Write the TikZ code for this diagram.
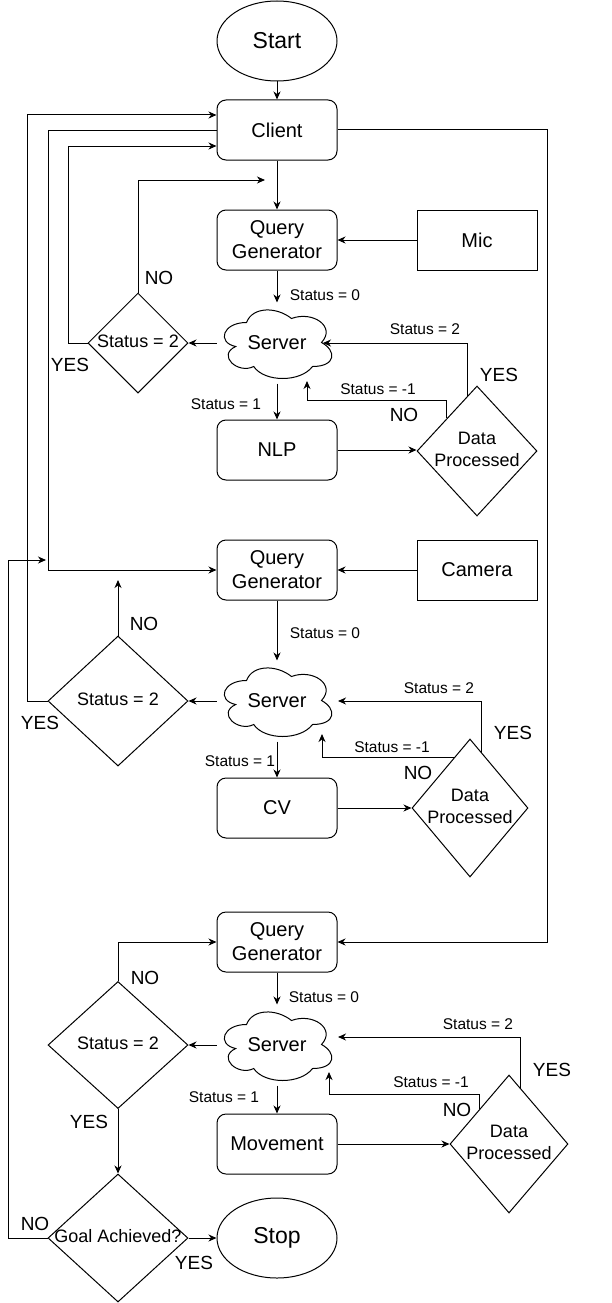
\documentclass[tikz,border=0pt]{standalone}
\usepackage{fontspec}
\setmainfont{Liberation Sans}
\usetikzlibrary{shapes.geometric,arrows.meta}
\newcommand\dtxt[1]{\makebox[0pt]{\begin{tabular}{@{}c@{}}#1\end{tabular}}}
\newcommand\cloudof[1]{%
  \begin{scope}[shift={(#1.north west)}]
    \draw[line width=1pt] (30,20) .. controls (6,20) and (0,40) .. (19.2,44)
      .. controls (0,52.8) and (21.6,72) .. (37.2,64)
      .. controls (48,80) and (84,80) .. (96,64)
      .. controls (120,64) and (120,48) .. (105,40)
      .. controls (120,24) and (96,8) .. (75,16)
      .. controls (60,4) and (36,4) .. (30,20) -- cycle;
  \end{scope}}
\begin{document}
\begin{tikzpicture}[x=1pt,y=-1pt,
  base/.style={draw=black, line width=1pt, font=\fontsize{20}{24}\selectfont, inner sep=0pt, align=center},
  rbox/.style={base, rectangle, rounded corners=9pt, minimum width=120pt, minimum height=60pt},
  sbox/.style={base, rectangle, minimum width=120pt, minimum height=60pt},
  oval/.style={base, ellipse, minimum width=120pt, minimum height=80pt, font=\fontsize{23}{27}\selectfont},
  dec/.style={base, diamond, font=\fontsize{18}{21.6}\selectfont},
  srv/.style={base, draw=none, rectangle, minimum width=120pt, minimum height=80pt},
  elab/.style={font=\fontsize{15.5}{18}\selectfont, inner sep=0pt},
  yn/.style={font=\fontsize{19}{22}\selectfont, inner sep=0pt},
  arr/.style={line width=1pt, -{Stealth[length=8pt,width=7pt,inset=2.5pt]}}
]
\useasboundingbox (0,0) rectangle (612,1303);
% ---- nodes
\node[oval] (start) at (277,41) {Start};
\node[rbox] (client) at (277,130) {Client};
\node[rbox] (qg1) at (277,240) {Query\\Generator};
\node[sbox] (mic) at (477,240) {Mic};
\node[srv] (srv1) at (277,343) {Server};
\cloudof{srv1}
\node[dec, minimum width=100pt, minimum height=100pt] (d1) at (138,343) {\dtxt{Status = 2}};
\node[rbox] (nlp) at (277,450) {NLP};
\node[dec, minimum width=120pt, minimum height=130pt] (dp1) at (477,451) {\dtxt{Data\\Processed}};

\node[rbox] (qg2) at (277,570) {Query\\Generator};
\node[sbox] (cam) at (477,570) {Camera};
\node[srv] (srv2) at (277,701) {Server};
\cloudof{srv2}
\node[dec, minimum width=140pt, minimum height=130pt] (d2) at (118,701) {\dtxt{Status = 2}};
\node[rbox] (cv) at (277,808) {CV};
\node[dec, minimum width=116pt, minimum height=138pt] (dp2) at (470,808) {\dtxt{Data\\Processed}};

\node[rbox] (qg3) at (277,942) {Query\\Generator};
\node[srv] (srv3) at (277,1045) {Server};
\cloudof{srv3}
\node[dec, minimum width=140pt, minimum height=127pt] (d3) at (118,1045) {\dtxt{Status = 2}};
\node[rbox] (mov) at (277,1144) {Movement};
\node[dec, minimum width=118pt, minimum height=138pt] (dp3) at (509,1144) {\dtxt{Data\\Processed}};
\node[dec, minimum width=140pt, minimum height=128pt] (goal) at (118,1238) {\dtxt{Goal Achieved?}};
\node[oval] (stop) at (277,1238) {Stop};

% ---- coordinates
\coordinate (n1) at (265,180);
\coordinate (y1) at (68,343);
\coordinate (b1) at (307,400);
\coordinate (t1) at (307,381);
\coordinate (e1) at (323,343);
\coordinate (r1) at (547,130);
\coordinate (m1) at (48,570);
\coordinate (y2) at (27,701);
\coordinate (n2) at (118,580);
\coordinate (e2) at (338,701);
\coordinate (b2) at (322,734);
\coordinate (e3) at (338,1037);
\coordinate (b3) at (329,1094);
\coordinate (t3) at (329,1072);
\coordinate (g1) at (8,1238);
\coordinate (g2) at (46,560);

% ---- block 1
\draw[arr] (start) -- (client);
\draw[arr] (client) -- (qg1);
\draw[arr] (mic) -- (qg1);
\draw[arr] (qg1) -- (srv1);
\draw[arr] (srv1.west) -- (d1.east);
\draw[arr] (srv1) -- (nlp);
\draw[arr] (nlp.east) -- (nlp.east -| dp1.west);
\draw[arr] (dp1.100) |- (e1);
\draw[arr] (dp1.north west) |- (b1) -- (t1);
\draw[arr] (d1.north) |- (n1);
\draw[arr] (d1.west) -- (y1) |- ([yshift=-16pt]client.west);
\draw[arr] (client.east) -- (r1) |- (qg3.east);
\draw[arr] ([yshift=-1pt]client.west) -| (m1) -- (qg2.west);
\node[elab] (l1) at (325,295) {Status = 0};
\node[elab] (l2) at (226,404) {Status = 1};
\node[elab] (l3) at (425,329) {Status = 2};
\node[yn] (l4) at (499,375) {YES};
\node[elab] (l5) at (378,389) {Status = -1};
\node[yn] (l6) at (404,415) {NO};
\node[yn] (l7) at (159,278) {NO};
\node[yn] (l8) at (70,365) {YES};

% ---- block 2
\draw[arr] (cam) -- (qg2);
\draw[arr] (qg2) -- (srv2);
\draw[arr] (srv2.west) -- (d2.east);
\draw[arr] (srv2) -- (cv);
\draw[arr] (cv) -- (dp2);
\draw[arr] (dp2.78) |- (e2);
\draw[arr] (dp2.108) -| (b2);
\draw[arr] (d2.north) -- (n2);
\draw[arr] (d2.west) -- (y2) |- ([yshift=15pt]client.west);
\node[elab] (l9) at (325,633) {Status = 0};
\node[elab] (l10) at (240,761) {Status = 1};
\node[elab] (l11) at (439,688) {Status = 2};
\node[yn] (l12) at (513,733) {YES};
\node[elab] (l13) at (392,747) {Status = -1};
\node[yn] (l14) at (418,773) {NO};
\node[yn] (l15) at (144,624) {NO};
\node[yn] (l16) at (40,723) {YES};

% ---- block 3
\draw[arr] (qg3) -- (srv3);
\draw[arr] (srv3.west) -- (d3.east);
\draw[arr] (srv3) -- (mov);
\draw[arr] (mov) -- (dp3);
\draw[arr] (dp3.78) |- (e3);
\draw[arr] (dp3.north west) |- (b3) -- (t3);
\draw[arr] (d3.north) |- (qg3.west);
\draw[arr] (d3) -- (goal);
\draw[arr] (goal) -- (stop);
\draw[arr] (goal.west) -- (g1) |- (g2);
\node[elab] (l17) at (324,997) {Status = 0};
\node[elab] (l18) at (224,1097) {Status = 1};
\node[elab] (l19) at (478,1024) {Status = 2};
\node[yn] (l20) at (552,1070) {YES};
\node[elab] (l21) at (431,1082) {Status = -1};
\node[yn] (l22) at (457,1110) {NO};
\node[yn] (l23) at (145,978) {NO};
\node[yn] (l24) at (89,1122) {YES};
\node[yn] (l25) at (35,1224) {NO};
\node[yn] (l26) at (194,1263) {YES};
\end{tikzpicture}
\end{document}
